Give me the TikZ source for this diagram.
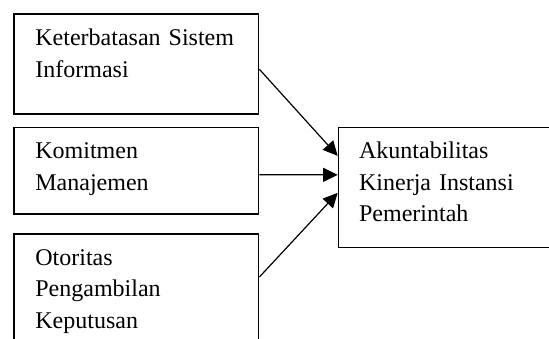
\documentclass[tikz,border=0pt]{standalone}
\usepackage{fontspec}
\setmainfont{Liberation Serif}
\usepackage{tikz}
\usetikzlibrary{arrows.meta}
\tikzset{
  >={Triangle[length=7.3pt,width=7pt]},
  bx/.style={draw,line width=0.85pt,anchor=north west,inner sep=0pt},
  tx/.style={anchor=base west,inner sep=0pt,text width=130pt,align=left,font=\fontsize{12}{15.85}\selectfont},
  every picture/.style={line width=0.6pt},
}
\begin{document}
\begin{tikzpicture}[x=0.5pt,y=-0.5pt]
\useasboundingbox (0,0) rectangle (549,338);
\clip (0,0) rectangle (549,338);
\node[bx,minimum width=122.2pt,minimum height=49.85pt] (K) at (13.3,13.3){};
\node[bx,minimum width=122.2pt,minimum height=43.35pt] (M) at (13.3,126.6){};
\node[bx,minimum width=122.2pt,minimum height=60pt] (O) at (13.3,233.3){};
\node[bx,minimum width=111pt,minimum height=60pt] (A) at (337.7,126.7){};
\node[tx] (Kt) at ([xshift=10.75pt,yshift=-16.2pt]K.north west){Keterbatasan Sistem\\Informasi};
\node[tx] (Mt) at ([xshift=10.75pt,yshift=-15.85pt]M.north west){Komitmen\\Manajemen};
\node[tx] (Ot) at ([xshift=10.75pt,yshift=-15.85pt]O.north west){Otoritas\\Pengambilan\\Keputusan};
\node[tx] (At) at ([xshift=10.4pt,yshift=-15.85pt]A.north west){Akuntabilitas\\Kinerja Instansi\\Pemerintah};
\draw[->] ([yshift=-2.65pt]K.east)--([yshift=15.85pt]A.west);
\draw[->] ([yshift=-2pt]M.east)--([yshift=6.35pt]A.west);
\draw[->] ([yshift=-21.85pt]O.north east)--([yshift=-2.65pt]A.west);
\end{tikzpicture}
\end{document}
